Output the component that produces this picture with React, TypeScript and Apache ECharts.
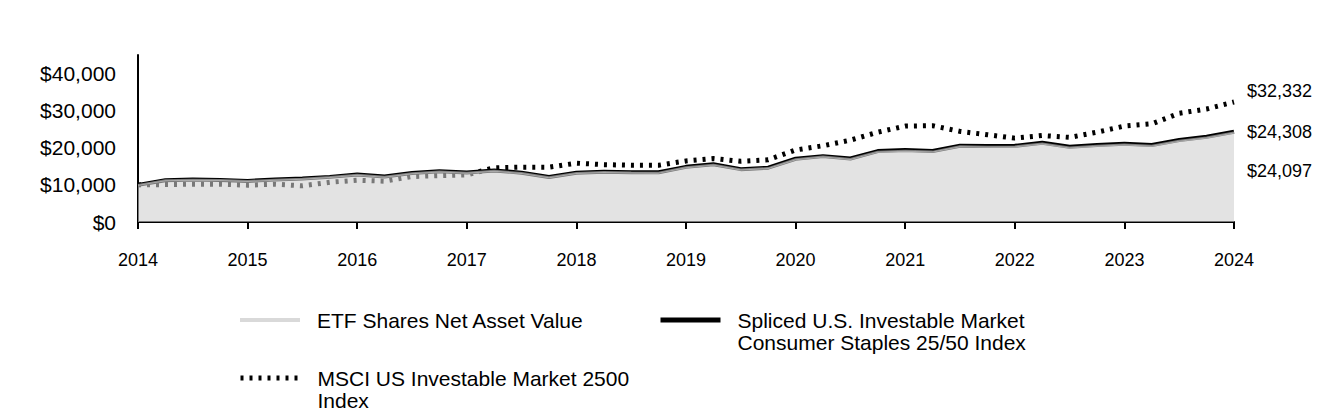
import React, { useEffect, useRef } from "react";
import * as echarts from "echarts";

const quarters = [
  "2014-01", "2014-04", "2014-07", "2014-10",
  "2015-01", "2015-04", "2015-07", "2015-10",
  "2016-01", "2016-04", "2016-07", "2016-10",
  "2017-01", "2017-04", "2017-07", "2017-10",
  "2018-01", "2018-04", "2018-07", "2018-10",
  "2019-01", "2019-04", "2019-07", "2019-10",
  "2020-01", "2020-04", "2020-07", "2020-10",
  "2021-01", "2021-04", "2021-07", "2021-10",
  "2022-01", "2022-04", "2022-07", "2022-10",
  "2023-01", "2023-04", "2023-07", "2023-10",
  "2024-01",
];

const etfNav = [
  10000, 11250, 11405, 11320, 11045, 11390, 11655, 12110, 12725, 12190,
  13135, 13630, 13255, 13800, 13200, 12070, 13190, 13455, 13305, 13300,
  14755, 15460, 14135, 14520, 16925, 17620, 16980, 18960, 19225, 18965,
  20385, 20300, 20375, 21180, 20105, 20560, 20905, 20555, 21895, 22790, 24097,
];

const splicedIndex = [
  10000, 11270, 11430, 11350, 11080, 11430, 11700, 12160, 12780, 12250,
  13200, 13700, 13330, 13880, 13280, 12150, 13280, 13550, 13400, 13400,
  14860, 15570, 14240, 14630, 17050, 17750, 17110, 19100, 19370, 19110,
  20540, 20460, 20540, 21350, 20270, 20730, 21080, 20730, 22080, 22980, 24308,
];

const msciIndex = [
  10000, 10080, 10190, 10190, 9920, 10190, 9750, 10700, 11250, 11000,
  12240, 12510, 12700, 14600, 14780, 14780, 15850, 15450, 15300, 15300,
  16450, 17100, 16350, 16760, 19400, 20550, 22050, 24200, 25850, 25950,
  24410, 23510, 22600, 23300, 22800, 24200, 25850, 26450, 29300, 30460, 32332,
];

const NAME_ETF = "ETF Shares Net Asset Value";
const NAME_SPLICED = "Spliced U.S. Investable Market Consumer Staples 25/50 Index";
const NAME_MSCI = "MSCI US Investable Market 2500 Index";

const FONT = "'Liberation Sans', Arial, Helvetica, sans-serif";

const money = (v: number) => "$" + Math.round(v).toLocaleString("en-US");

export default function App() {
  const ref = useRef<HTMLDivElement>(null);

  useEffect(() => {
    if (!ref.current) return;
    const chart = echarts.init(ref.current, undefined, { renderer: "svg" });

    const endLabel = (dy: number) => ({
      show: true,
      formatter: (p: any) => money(Array.isArray(p.value) ? p.value[1] : p.value),
      color: "#000",
      fontSize: 18,
      fontFamily: FONT,
      distance: 13,
      offset: [0, dy],
    });

    const legendBase = {
      orient: "horizontal" as const,
      padding: 0,
      itemWidth: 60,
      itemHeight: 14,
      selectedMode: false,
    };

    const legendText = {
      color: "#000",
      fontSize: 21,
      fontFamily: FONT,
      lineHeight: 22,
      padding: [0, 0, 0, 12],
    };

    const hiddenSymbol = { opacity: 0, borderWidth: 0 };

    chart.setOption({
      animation: false,
      backgroundColor: "#fff",
      textStyle: { fontFamily: FONT },
      grid: { left: 138, right: 110, top: 55, bottom: 198, containLabel: false },
      xAxis: {
        type: "category",
        data: quarters,
        boundaryGap: false,
        axisLine: { show: true, lineStyle: { color: "#000", width: 2 } },
        axisTick: { show: true, interval: 3, length: 7, lineStyle: { color: "#000", width: 2 } },
        axisLabel: {
          interval: 3,
          formatter: (v: string) => v.slice(0, 4),
          color: "#000",
          fontSize: 18,
          fontFamily: FONT,
          margin: 29,
        },
        splitLine: { show: false },
      },
      yAxis: {
        type: "value",
        min: 0,
        max: 45000,
        interval: 10000,
        axisLine: { show: true, lineStyle: { color: "#000", width: 2 } },
        axisTick: { show: false },
        splitLine: { show: false },
        axisLabel: {
          showMaxLabel: false,
          formatter: (v: number) => (v > 40000 ? "" : money(v)),
          color: "#000",
          fontSize: 21,
          fontFamily: FONT,
          margin: 22,
        },
      },
      legend: [
        {
          ...legendBase,
          left: 238,
          top: 309,
          data: [{ name: NAME_ETF, itemStyle: hiddenSymbol, lineStyle: { color: "#d9d9d9", width: 4, type: "solid" } }],
          textStyle: legendText,
        },
        {
          ...legendBase,
          left: 658,
          top: 287,
          data: [{ name: NAME_SPLICED, itemStyle: hiddenSymbol, lineStyle: { color: "#000", width: 5, type: "solid" } }],
          formatter: () => "\nSpliced U.S. Investable Market\nConsumer Staples 25/50 Index",
          textStyle: legendText,
        },
        {
          ...legendBase,
          left: 238,
          top: 345,
          data: [{ name: NAME_MSCI, itemStyle: hiddenSymbol, lineStyle: { color: "#000", width: 5, type: [3, 6] } }],
          formatter: () => "\nMSCI US Investable Market 2500\nIndex",
          textStyle: legendText,
        },
      ],
      series: [
        {
          name: NAME_MSCI,
          type: "line",
          data: msciIndex,
          symbol: "none",
          z: 2,
          lineStyle: { color: "#000", width: 5, type: [3, 6], cap: "butt" },
          itemStyle: { color: "#000" },
          endLabel: endLabel(-11),
        },
        {
          name: NAME_SPLICED,
          type: "line",
          data: splicedIndex,
          symbol: "none",
          z: 3,
          lineStyle: { color: "#000", width: 4 },
          itemStyle: { color: "#000" },
          endLabel: endLabel(0),
        },
        {
          name: NAME_ETF,
          type: "line",
          data: etfNav,
          symbol: "none",
          z: 4,
          lineStyle: { color: "rgba(205,205,205,0.6)", width: 2 },
          itemStyle: { color: "#d9d9d9" },
          areaStyle: { color: "rgba(206,206,206,0.58)", opacity: 1 },
          endLabel: endLabel(38),
        },
      ],
    });

    return () => chart.dispose();
  }, []);

  return (
    <div
      ref={ref}
      style={{ position: "fixed", left: 0, top: 0, width: 1344, height: 420, background: "#fff" }}
    />
  );
}
